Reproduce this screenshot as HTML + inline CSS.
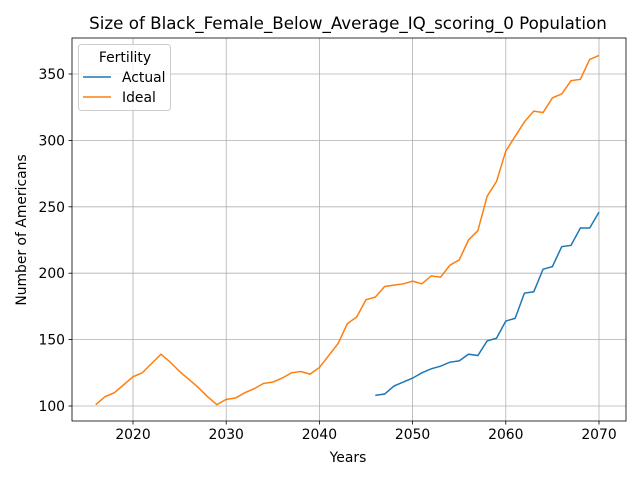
<!DOCTYPE html>
<html><head><meta charset="utf-8"><style>
body{margin:0;background:#fff;font-family:"Liberation Sans","DejaVu Sans",sans-serif}
svg text{font-family:"DejaVu Sans","Liberation Sans",sans-serif}
</style></head><body>
<svg id="c" width="640" height="480" xmlns="http://www.w3.org/2000/svg"></svg>
<script>
const yearsIdeal=[2016,2017,2018,2019,2020,2021,2022,2023,2024,2025,2026,2027,2028,2029,2030,2031,2032,2033,2034,2035,2036,2037,2038,2039,2040,2041,2042,2043,2044,2045,2046,2047,2048,2049,2050,2051,2052,2053,2054,2055,2056,2057,2058,2059,2060,2061,2062,2063,2064,2065,2066,2067,2068,2069,2070];
const ideal=[101,107,110,116,122,125,132,139,133,126,120,114,107,101,105,106,110,113,117,118,121,125,126,124,129,138,147,162,167,180,182,190,191,192,194,192,198,197,206,210,225,232,258,269,292,303,314,322,321,332,335,345,346,361,364];
const yearsActual=[2046,2047,2048,2049,2050,2051,2052,2053,2054,2055,2056,2057,2058,2059,2060,2061,2062,2063,2064,2065,2066,2067,2068,2069,2070];
const actual=[108,109,115,118,121,125,128,130,133,134,139,138,149,151,164,166,185,186,203,205,220,221,234,234,246];
const xTicks=[2020,2030,2040,2050,2060,2070];
const yTicks=[100,150,200,250,300,350];
const L=72,R=626,T=38,B=421;
const x=v=>133+(v-2020)*9.32;
const y=v=>406-(v-100)*1.328;
const s=document.getElementById('c');
const NS='http://www.w3.org/2000/svg';
function mk(t,a,p){const e=document.createElementNS(NS,t);for(const k in a)e.setAttribute(k,a[k]);(p||s).appendChild(e);return e;}
xTicks.forEach(t=>{
 const g=mk('line',{x1:x(t),x2:x(t),y1:T,y2:B,stroke:'#b0b0b0','stroke-width':0.8});
 
 
 mk('line',{x1:x(t),x2:x(t),y1:B,y2:B+3.5,stroke:'#000','stroke-width':0.8});
 const tx=mk('text',{x:x(t),y:B+18,'text-anchor':'middle','font-size':13.9});tx.textContent=t;
 
 
});
yTicks.forEach(t=>{
 const g=mk('line',{x1:L,x2:R,y1:y(t),y2:y(t),stroke:'#b0b0b0','stroke-width':0.8});
 
 
 mk('line',{x1:L-3.5,x2:L,y1:y(t),y2:y(t),stroke:'#000','stroke-width':0.8});
 const tx=mk('text',{x:L-7,y:y(t)+5,'text-anchor':'end','font-size':13.9});tx.textContent=t;
 
 
});
function line(xs,vs,c,n){const p=mk('polyline',{points:xs.map((a,i)=>x(a)+','+y(vs[i])).join(' '),fill:'none',stroke:c,'stroke-width':1.5});
 
 }
line(yearsActual,actual,'#1f77b4','actual-line');
line(yearsIdeal,ideal,'#ff7f0e','ideal-line');
const fr=mk('rect',{x:L,y:T,width:R-L,height:B-T,fill:'none',stroke:'#000','stroke-width':0.8});


</script>
<svg style="position:absolute;left:0;top:0" width="640" height="480" xmlns="http://www.w3.org/2000/svg">
<text x="348" y="29" text-anchor="middle" font-size="16.7">Size of Black_Female_Below_Average_IQ_scoring_0 Population</text>
<text x="348" y="462" text-anchor="middle" font-size="13.9">Years</text>
<text transform="translate(26,230) rotate(-90)" text-anchor="middle" font-size="13.9">Number of Americans</text>
<g>
<rect x="78.5" y="44.5" width="92" height="66" rx="3" fill="#fff" fill-opacity="0.8" stroke="#ccc"/>
<text x="125" y="62" text-anchor="middle" font-size="13.9">Fertility</text>
<line x1="83" x2="111" y1="77" y2="77" stroke="#1f77b4" stroke-width="1.5"/>
<text x="122" y="82" font-size="13.9">Actual</text>
<line x1="83" x2="111" y1="97" y2="97" stroke="#ff7f0e" stroke-width="1.5"/>
<text x="122" y="102" font-size="13.9">Ideal</text>
</g>
</svg>
</body></html>
